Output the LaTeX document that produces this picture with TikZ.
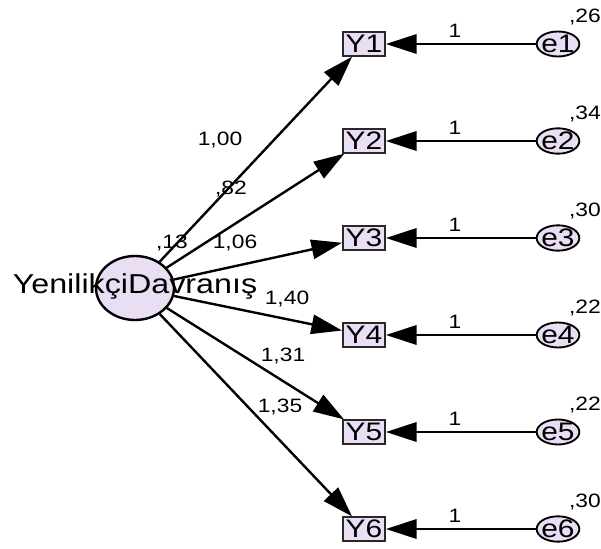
\documentclass[tikz,border=0pt]{standalone}
\usepackage{fontspec}
\setmainfont{Liberation Sans}[FakeStretch=1.18]
\usetikzlibrary{arrows.meta,shapes.geometric}

\begin{document}
\begin{tikzpicture}[x=0.75pt,y=0.75pt,yscale=-1,
  lavfill/.style={fill={rgb,255:red,234;green,222;blue,245}},
  latentnode/.style={draw,ellipse,lavfill,line width=1.8pt,inner sep=0pt,minimum width=58.5pt,minimum height=48pt},
  latentname/.style={inner sep=0pt,font=\fontsize{20.5}{21}\selectfont},
  obsbox/.style={draw={rgb,255:red,40;green,40;blue,40},lavfill,line width=1.4pt,inner sep=0pt,minimum width=31.5pt,minimum height=17.5pt,font=\fontsize{19}{19}\selectfont},
  errnode/.style={draw,ellipse,lavfill,line width=1.4pt,inner xsep=-2pt,inner ysep=0pt,minimum width=32pt,minimum height=18.5pt,font=\fontsize{19}{19}\selectfont},
  coefnum/.style={inner sep=0pt,font=\fontsize{14.5}{15}\selectfont},
  arrowline/.style={line width=1.8pt,-{Triangle[length=23pt,width=14.5pt]}}]
\useasboundingbox (0,0) rectangle (601,549);

%Shape: Ellipse (latent)
\node[latentnode] (lat) at (135,288) {};

%Shape: Rectangle (observed)
\node[obsbox] (y1) at (364,44) {Y1};
\node[obsbox] (y2) at (364,141) {Y2};
\node[obsbox] (y3) at (364,238) {Y3};
\node[obsbox] (y4) at (364,335) {Y4};
\node[obsbox] (y5) at (364,432) {Y5};
\node[obsbox] (y6) at (364,529) {Y6};

%Shape: Ellipse (errors)
\node[errnode] (e1) at (558,44) {e1};
\node[errnode] (e2) at (558,141) {e2};
\node[errnode] (e3) at (558,238) {e3};
\node[errnode] (e4) at (558,335) {e4};
\node[errnode] (e5) at (558,432) {e5};
\node[errnode] (e6) at (558,529) {e6};

%Straight Lines (loadings)
\draw[arrowline] (lat) -- (y1);
\draw[arrowline] (lat) -- (y2);
\draw[arrowline] (lat) -- (y3);
\draw[arrowline] (lat) -- (y4);
\draw[arrowline] (lat) -- (y5);
\draw[arrowline] (lat) -- (y6);

%Straight Lines (error paths)
\draw[arrowline] (e1) -- (y1);
\draw[arrowline] (e2) -- (y2);
\draw[arrowline] (e3) -- (y3);
\draw[arrowline] (e4) -- (y4);
\draw[arrowline] (e5) -- (y5);
\draw[arrowline] (e6) -- (y6);

% Text Node
\node[latentname] (latname) at (135,286) {YenilikçiDavranış};
% Text Node
\node[coefnum] (vlat) at (172,243) {,13};

% Text Node
\node[coefnum] (c1) at (220,140) {1,00};
\node[coefnum] (c2) at (231,189) {,82};
\node[coefnum] (c3) at (235,243) {1,06};
\node[coefnum] (c4) at (287,299) {1,40};
\node[coefnum] (c5) at (283,356) {1,31};
\node[coefnum] (c6) at (280,407) {1,35};

% Text Node
\node[coefnum] (w1) at (455,31) {1};
\node[coefnum] (w2) at (455,128) {1};
\node[coefnum] (w3) at (455,225) {1};
\node[coefnum] (w4) at (455,322) {1};
\node[coefnum] (w5) at (455,419) {1};
\node[coefnum] (w6) at (455,516) {1};

% Text Node
\node[coefnum] (v1) at (585,17) {,26};
\node[coefnum] (v2) at (585,114) {,34};
\node[coefnum] (v3) at (585,211) {,30};
\node[coefnum] (v4) at (585,308) {,22};
\node[coefnum] (v5) at (585,405) {,22};
\node[coefnum] (v6) at (585,502) {,30};

\end{tikzpicture}
\end{document}
